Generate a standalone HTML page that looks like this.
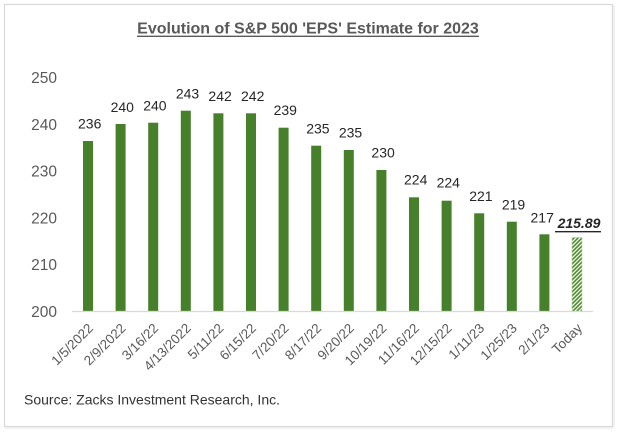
<!DOCTYPE html>
<html><head><meta charset="utf-8"><style>
html,body{margin:0;padding:0;background:#fff;}
svg{display:block;}
text{font-family:"Liberation Sans",Arial,sans-serif;}
</style></head><body>
<svg width="620" height="434" viewBox="0 0 620 434" xmlns="http://www.w3.org/2000/svg">
<defs>
<pattern id="hatch" patternUnits="userSpaceOnUse" width="4" height="4">
<rect width="4" height="4" fill="#ffffff"/>
<path d="M-1,1 l2,-2 M0,4 l4,-4 M3,5 l2,-2" stroke="#4a8a2c" stroke-width="1.6"/>
</pattern>
</defs>
<rect x="0" y="0" width="620" height="434" fill="#fff"/>
<rect x="4.5" y="4.5" width="608" height="422" fill="#fff" stroke="#d9d9d9" stroke-width="1.2"/>
<line x1="5" y1="428" x2="613" y2="428" stroke="#eeeeee" stroke-width="1.5"/>
<line x1="614" y1="5" x2="614" y2="428" stroke="#eeeeee" stroke-width="1.5"/>

<!-- title -->
<text x="308" y="33.3" text-anchor="middle" font-size="16" font-weight="bold" fill="#595959">Evolution of S&amp;P 500 'EPS' Estimate for 2023</text>
<line x1="137" y1="36.3" x2="479" y2="36.3" stroke="#595959" stroke-width="1.3"/>

<!-- y axis labels -->
<g font-size="15.5" fill="#595959" text-anchor="end">
<text x="57" y="83">250</text>
<text x="57" y="129.8">240</text>
<text x="57" y="176.6">230</text>
<text x="57" y="223.4">220</text>
<text x="57" y="270.2">210</text>
<text x="57" y="317">200</text>
</g>

<!-- bars -->
<g fill="#47802a">
<rect x="83" y="141" width="10" height="170.5"/>
<rect x="115.6" y="124" width="10" height="187.5"/>
<rect x="148.2" y="122.7" width="10" height="188.8"/>
<rect x="180.8" y="110.7" width="10" height="200.8"/>
<rect x="213.4" y="113.3" width="10" height="198.2"/>
<rect x="246" y="113.3" width="10" height="198.2"/>
<rect x="278.6" y="127.7" width="10" height="183.8"/>
<rect x="311.2" y="145.7" width="10" height="165.8"/>
<rect x="343.8" y="150" width="10" height="161.5"/>
<rect x="376.4" y="170" width="10" height="141.5"/>
<rect x="409" y="197.3" width="10" height="114.2"/>
<rect x="441.6" y="200.7" width="10" height="110.8"/>
<rect x="474.2" y="213.3" width="10" height="98.2"/>
<rect x="506.8" y="221.7" width="10" height="89.8"/>
<rect x="539.4" y="234.3" width="10" height="77.2"/>
</g>
<rect x="572" y="237.5" width="10" height="74" fill="url(#hatch)" stroke="#b7d3a6" stroke-width="0.6"/>

<!-- axis line -->
<line x1="72" y1="311.5" x2="593" y2="311.5" stroke="#d9d9d9" stroke-width="1.2"/>

<!-- data labels -->
<g font-size="14" fill="#262626" text-anchor="middle">
<text x="89.7" y="128.3">236</text>
<text x="122.3" y="112">240</text>
<text x="154.9" y="110.5">240</text>
<text x="187.5" y="98.3">243</text>
<text x="220.1" y="101">242</text>
<text x="252.7" y="101">242</text>
<text x="285.3" y="115">239</text>
<text x="317.9" y="133.3">235</text>
<text x="350.5" y="137.7">235</text>
<text x="383.1" y="157.7">230</text>
<text x="415.7" y="184.3">224</text>
<text x="448.3" y="187.7">224</text>
<text x="480.9" y="201.2">221</text>
<text x="513.5" y="209.3">219</text>
<text x="542.2" y="222.7">217</text>
</g>
<text x="579" y="228" text-anchor="middle" font-size="14" font-weight="bold" font-style="italic" fill="#262626">215.89</text>
<line x1="555" y1="231.7" x2="601" y2="231.7" stroke="#262626" stroke-width="1.4"/>

<!-- x labels -->
<g font-size="13.5" fill="#595959" text-anchor="end">
<text transform="translate(94,329) rotate(-45)">1/5/2022</text>
<text transform="translate(126.6,329) rotate(-45)">2/9/2022</text>
<text transform="translate(159.2,329) rotate(-45)">3/16/22</text>
<text transform="translate(191.8,329) rotate(-45)">4/13/2022</text>
<text transform="translate(224.4,329) rotate(-45)">5/11/22</text>
<text transform="translate(257,329) rotate(-45)">6/15/22</text>
<text transform="translate(289.6,329) rotate(-45)">7/20/22</text>
<text transform="translate(322.2,329) rotate(-45)">8/17/22</text>
<text transform="translate(354.8,329) rotate(-45)">9/20/22</text>
<text transform="translate(387.4,329) rotate(-45)">10/19/22</text>
<text transform="translate(420,329) rotate(-45)">11/16/22</text>
<text transform="translate(452.6,329) rotate(-45)">12/15/22</text>
<text transform="translate(485.2,329) rotate(-45)">1/11/23</text>
<text transform="translate(517.8,329) rotate(-45)">1/25/23</text>
<text transform="translate(550.4,329) rotate(-45)">2/1/23</text>
<text transform="translate(583,329) rotate(-45)">Today</text>
</g>

<!-- source -->
<text x="24" y="404.5" font-size="14" fill="#333333">Source: Zacks Investment Research, Inc.</text>
</svg>
</body></html>
